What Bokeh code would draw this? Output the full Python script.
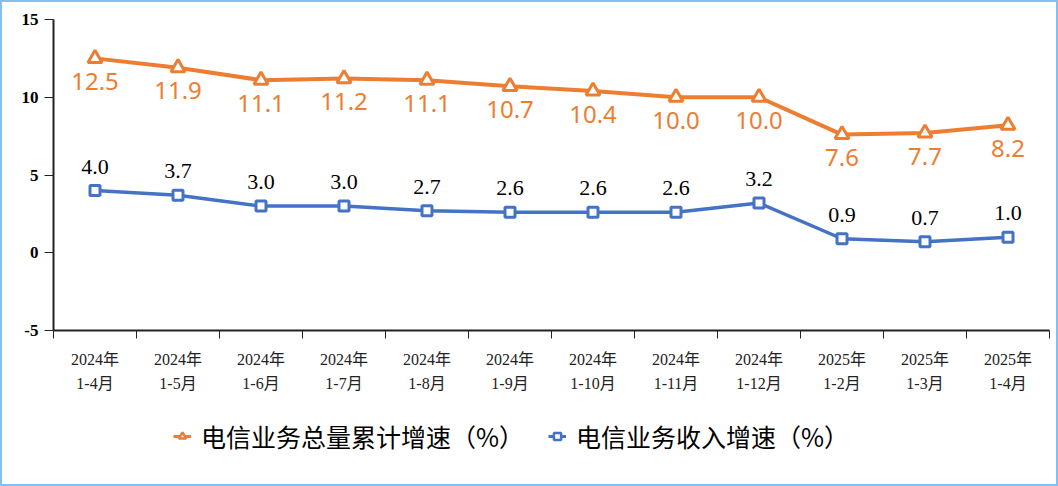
from bokeh.plotting import figure
from bokeh.layouts import column
from bokeh.models import ColumnDataSource, FixedTicker, Legend, LegendItem, Range1d
from bokeh.core.properties import value
from bokeh.embed import file_html
from bokeh.resources import INLINE

categories = ["2024年\n1-4月", "2024年\n1-5月", "2024年\n1-6月", "2024年\n1-7月",
              "2024年\n1-8月", "2024年\n1-9月", "2024年\n1-10月", "2024年\n1-11月",
              "2024年\n1-12月", "2025年\n1-2月", "2025年\n1-3月", "2025年\n1-4月"]
total_growth = [12.5, 11.9, 11.1, 11.2, 11.1, 10.7, 10.4, 10.0, 10.0, 7.6, 7.7, 8.2]
revenue_growth = [4.0, 3.7, 3.0, 3.0, 2.7, 2.6, 2.6, 2.6, 3.2, 0.9, 0.7, 1.0]
y_ticks = [-5, 0, 5, 10, 15]
y_tick_labels = ["-5", "0", "5", "10", "15"]
series_names = ["电信业务总量累计增速（%）", "电信业务收入增速（%）"]

ORANGE = "#ED7D31"
BLUE = "#4472C4"

n = len(categories)
xpos = [i + 0.5 for i in range(n)]
src = ColumnDataSource(dict(
    x=xpos, total=total_growth, rev=revenue_growth,
    total_lbl=["%.1f" % v for v in total_growth],
    rev_lbl=["%.1f" % v for v in revenue_growth],
))

W = 1054
p = figure(width=W, height=400, output_backend="svg", toolbar_location=None,
           x_range=Range1d(0, n), y_range=Range1d(-5, 15),
           min_border_left=51, min_border_right=7, min_border_top=17, min_border_bottom=72)
p.outline_line_color = None
p.grid.grid_line_color = None
p.background_fill_color = "white"
p.border_fill_color = "white"

# axes
p.yaxis.ticker = FixedTicker(ticks=y_ticks)
p.yaxis.major_label_overrides = dict(zip(y_ticks, y_tick_labels))
p.yaxis.axis_line_color = "#222222"
p.yaxis.axis_line_width = 2
p.yaxis.major_tick_in = 0
p.yaxis.major_tick_out = 9
p.yaxis.major_tick_line_color = "#222222"
p.yaxis.minor_tick_line_color = None
p.yaxis.major_label_text_font = "Liberation Serif"
p.yaxis.major_label_text_font_size = "17px"
p.yaxis.major_label_text_font_style = "bold"
p.yaxis.major_label_text_color = "black"
p.yaxis.major_label_standoff = 6

p.xaxis.ticker = FixedTicker(ticks=xpos, minor_ticks=list(range(n + 1)))
p.xaxis.major_label_overrides = {x: c for x, c in zip(xpos, categories)}
p.xaxis.axis_line_color = "#222222"
p.xaxis.axis_line_width = 2
p.xaxis.major_tick_line_color = None
p.xaxis.major_tick_in = 0
p.xaxis.major_tick_out = 8
p.xaxis.minor_tick_line_color = "#222222"
p.xaxis.minor_tick_in = 0
p.xaxis.minor_tick_out = 8
p.xaxis.minor_tick_line_width = 1
p.xaxis.major_label_text_font = "Liberation Serif, Noto Sans CJK SC"
p.xaxis.major_label_text_font_size = "16px"
p.xaxis.major_label_text_line_height = 1.45
p.xaxis.major_label_text_color = "#222222"
p.xaxis.major_label_standoff = 12

# series
p.line("x", "total", source=src, line_color=ORANGE, line_width=4)
p.scatter("x", "total", source=src, marker="triangle", size=14,
          fill_color="white", line_color=ORANGE, line_width=3)
p.line("x", "rev", source=src, line_color=BLUE, line_width=3.5)
p.scatter("x", "rev", source=src, marker="square", size=10,
          fill_color="white", line_color=BLUE, line_width=3)

p.text("x", "total", text="total_lbl", source=src, text_align="center",
       text_baseline="middle", y_offset=23, text_color=ORANGE,
       text_font=value("Noto Sans"), text_font_size="24px")
p.text("x", "rev", text="rev_lbl", source=src, text_align="center",
       text_baseline="middle", y_offset=-24, text_color="black",
       text_font=value("Liberation Serif"), text_font_size="22px")

# legend strip below the chart (its series sit outside its visible range)
q = figure(width=W, height=82, output_backend="svg", toolbar_location=None,
           x_range=Range1d(0, n), y_range=Range1d(100, 101),
           x_axis_location=None, y_axis_location=None,
           min_border_left=0, min_border_right=0, min_border_top=0, min_border_bottom=0)
q.outline_line_color = None
q.grid.grid_line_color = None
q.border_fill_color = "white"
q.background_fill_color = "white"
ql1 = q.line("x", "total", source=src, line_color=ORANGE, line_width=3)
qm1 = q.scatter("x", "total", source=src, marker="triangle", size=14,
                fill_color="white", line_color=ORANGE, line_width=2.5)
ql2 = q.line("x", "rev", source=src, line_color=BLUE, line_width=3)
qm2 = q.scatter("x", "rev", source=src, marker="square", size=10,
                fill_color="white", line_color=BLUE, line_width=2.5)

legend = Legend(items=[LegendItem(label=series_names[0], renderers=[ql1, qm1]),
                       LegendItem(label=series_names[1], renderers=[ql2, qm2])],
                orientation="horizontal", location=(120, 30),
                label_text_font="Noto Sans CJK SC", label_text_font_size="25px",
                label_text_color="black", spacing=24, glyph_width=18, label_standoff=10,
                border_line_color=None, background_fill_alpha=0, margin=0)
q.add_layout(legend, "center")

layout = column(p, q, spacing=0)
layout.styles = {"border": "2px solid #86BEEC"}

open("out.html", "w").write(file_html(layout, INLINE))
